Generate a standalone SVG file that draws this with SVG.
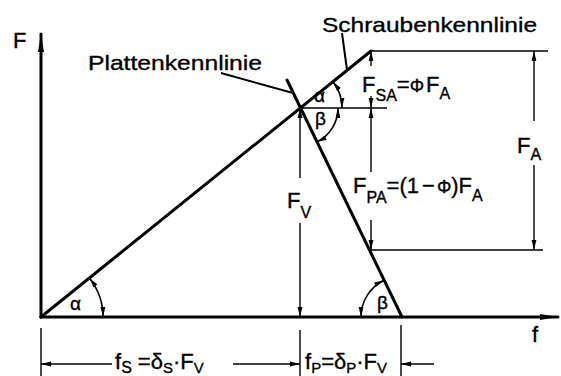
<svg xmlns="http://www.w3.org/2000/svg" width="561" height="376" viewBox="0 0 561 376">
<defs>
<marker id="ah" viewBox="0 0 10 6" refX="10" refY="3" markerWidth="10" markerHeight="6" markerUnits="userSpaceOnUse" orient="auto-start-reverse">
<path d="M0,0.6 L10,3 L0,5.4 Z" fill="#000"/>
</marker>
<marker id="axh" viewBox="0 0 18 7" refX="18" refY="3.5" markerWidth="18" markerHeight="7" markerUnits="userSpaceOnUse" orient="auto">
<path d="M0,0.5 L18,3.5 L0,6.5 Z" fill="#000"/>
</marker>
<style>
.thick{stroke:#000;stroke-width:3;fill:none;stroke-linecap:round}
.med{stroke:#000;stroke-width:2;fill:none}
.thin{stroke:#000;stroke-width:1.4;fill:none}
.dim{stroke:#000;stroke-width:1.4;fill:none;marker-end:url(#ah)}
.arc{stroke:#000;stroke-width:1.6;fill:none;marker-start:url(#ah);marker-end:url(#ah)}
text{font-family:"Liberation Sans","DejaVu Sans",Arial,sans-serif;fill:#000;stroke:#000;stroke-width:0.35}
.lbl{font-size:21px}
.sym{font-size:22px}
.sub{font-size:16px}
.ang{font-size:19px}
</style>
</defs>
<rect width="561" height="376" fill="#fff"/>

<g id="axes">
<line class="thick" x1="41" y1="317" x2="41" y2="34" style="marker-end:url(#axh)"/>
<line class="thick" x1="41" y1="317" x2="558" y2="317" style="marker-end:url(#axh)"/>
</g>

<g id="characteristics">
<polyline class="thick" points="41,317 371,51"/>
<line class="thick" x1="287" y1="80" x2="402" y2="317"/>
</g>

<g id="connectors">
<line class="thin" x1="371" y1="51" x2="548" y2="51"/>
<line class="thin" x1="300" y1="108" x2="387" y2="108"/>
<line class="thin" x1="369" y1="250" x2="543" y2="250"/>
<line class="med" x1="221" y1="73" x2="293" y2="93"/>
<line class="med" x1="342" y1="33" x2="347" y2="70"/>
<!-- F_V -->
<line class="dim" x1="300" y1="178" x2="300" y2="108"/>
<line class="dim" x1="300" y1="223" x2="300" y2="317"/>
<!-- F_SA -->
<line class="dim" x1="371" y1="66" x2="371" y2="51"/>
<line class="dim" x1="371" y1="96" x2="371" y2="108"/>
<!-- F_PA -->
<line class="dim" x1="371" y1="172" x2="371" y2="108"/>
<line class="dim" x1="371" y1="220" x2="371" y2="250"/>
<!-- F_A -->
<line class="dim" x1="534" y1="121" x2="534" y2="51"/>
<line class="dim" x1="534" y1="165" x2="534" y2="250"/>
<!-- bottom dimension -->
<line class="thin" x1="41" y1="328" x2="41" y2="376"/>
<line class="thin" x1="300" y1="330" x2="300" y2="376"/>
<line class="thin" x1="401" y1="325" x2="401" y2="376"/>
<line class="dim" x1="112" y1="364" x2="41" y2="364"/>
<line class="dim" x1="233" y1="364" x2="300" y2="364"/>
<line class="dim" x1="434" y1="364" x2="401" y2="364"/>
<!-- angle arcs -->
<path class="arc" d="M89.3,278.1 A62,62 0 0 1 103,317"/>
<path class="arc" d="M332.7,81.6 A42,42 0 0 1 342,108"/>
<path class="arc" d="M338,108 A38,38 0 0 1 316.7,142.1"/>
<path class="arc" d="M361,317 A41,41 0 0 1 384,280.2"/>
</g>

<g id="labels">
<text class="sym" x="13" y="48">F</text>
<text class="sym" x="532" y="342" font-size="20">f</text>
<text class="lbl" x="88" y="70" textLength="174" lengthAdjust="spacingAndGlyphs">Plattenkennlinie</text>
<text class="lbl" x="322" y="32" textLength="215" lengthAdjust="spacingAndGlyphs">Schraubenkennlinie</text>
<text class="sym" x="362" y="92">F<tspan class="sub" dy="9">SA</tspan><tspan dy="-9">=</tspan><tspan font-size="18">Φ</tspan><tspan dx="2">F</tspan><tspan class="sub" dy="7">A</tspan></text>
<text class="sym" x="517" y="153">F<tspan class="sub" dy="7">A</tspan></text>
<text class="sym" x="353" y="193">F<tspan class="sub" dy="10">PA</tspan><tspan dy="-10">=(1</tspan><tspan dx="3">−</tspan><tspan dx="2" font-size="18">Φ</tspan><tspan>)F</tspan><tspan class="sub" dy="8">A</tspan></text>
<text class="sym" x="287" y="208">F<tspan class="sub" dy="10">V</tspan></text>
<text class="ang" x="70" y="310">α</text>
<text class="ang" x="314" y="102">α</text>
<text class="ang" x="315" y="125" font-size="17">β</text>
<text class="ang" x="377" y="309">β</text>
<text class="sym" x="115" y="369" font-size="20">f<tspan class="sub" dy="4" font-size="15">S</tspan><tspan dy="-4" dx="6">=δ</tspan><tspan font-size="15" dy="4">S</tspan><tspan dy="-4">·F</tspan><tspan font-size="15" dy="4">V</tspan></text>
<text class="sym" x="305" y="369" font-size="20">f<tspan font-size="15" dy="4">P</tspan><tspan dy="-4">=δ</tspan><tspan font-size="15" dy="4">P</tspan><tspan dy="-4">·F</tspan><tspan font-size="15" dy="4">V</tspan></text>
</g>
</svg>
